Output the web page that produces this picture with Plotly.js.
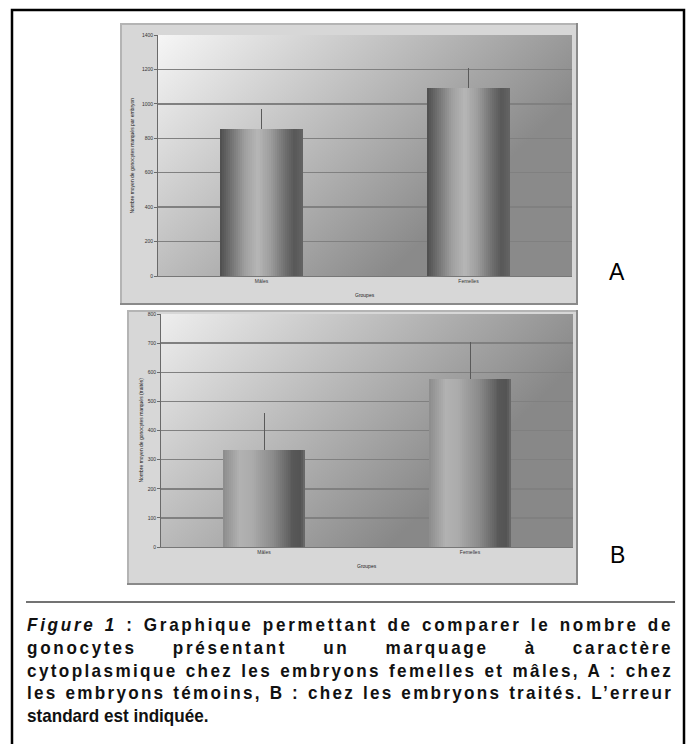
<!DOCTYPE html>
<html>
<head>
<meta charset="utf-8">
<script src="https://cdn.plot.ly/plotly-3.0.1.min.js"></script>
<style>
  html, body { margin:0; padding:0; background:#fff; }
  #wrap { position:relative; width:696px; height:744px; overflow:hidden; }
  #plot { position:absolute; left:0; top:0; width:696px; height:744px; }
  #caption { position:absolute; left:27px; top:614px; width:718px;
    transform:scaleX(0.9); transform-origin:0 0; z-index:5;
    font-family:"Liberation Sans", Arial, Helvetica, sans-serif; font-weight:bold;
    font-size:19px; line-height:22.8px; color:#111; }
  #caption .ln { display:block; width:718px; white-space:nowrap; }
  #caption .j { text-align:justify; text-align-last:justify; }
</style>
</head>
<body>
<div id="wrap">
  <div id="plot"></div>
  <div id="caption">
    <div class="ln j"><i>Figure 1</i> : Graphique permettant de comparer le nombre de</div>
    <div class="ln j">gonocytes présentant un marquage à caractère</div>
    <div class="ln j">cytoplasmique chez les embryons femelles et mâles, A : chez</div>
    <div class="ln j">les embryons témoins, B : chez les embryons traités. L’erreur</div>
    <div class="ln">standard est indiquée.</div>
  </div>
</div>
<script>
// ---------- data ----------
const categories = ['Mâles', 'Femelles'];
const valuesA = [852, 1090];
const errorsA = [116, 120];
const valuesB = [332, 577];
const errorsB = [128, 128];
const ticksA = [0, 200, 400, 600, 800, 1000, 1200, 1400];
const ticksB = [0, 100, 200, 300, 400, 500, 600, 700, 800];
const yTitleA = 'Nombre moyen de gonocytes marqués par embryon';
const yTitleB = 'Nombre moyen de gonocytes marqués (traités)';
const xTitle = 'Groupes';

// caption justification: spread with letter spacing, then word spacing
(function () {
  try {
    const target = 718;
    const cv = document.createElement('canvas').getContext('2d');
    cv.font = 'bold 19px "Liberation Sans", Arial, sans-serif';
    document.querySelectorAll('#caption .j').forEach(el => {
      const txt = el.textContent;
      const w = cv.measureText(txt).width;
      const n = txt.length;
      const extra = target - w - 8;
      const ls = Math.max(0, Math.min(extra / n, 3.0));
      el.style.letterSpacing = ls.toFixed(2) + 'px';
    });
  } catch (e) { console.log(e); }
})();

// ---------- helpers ----------
const W = 696, H = 744;
const px = x => x / W;
const py = y => 1 - y / H;

function canvasURL(w, h, draw) {
  const c = document.createElement('canvas');
  c.width = w; c.height = h;
  draw(c.getContext('2d'), w, h);
  return c.toDataURL('image/png');
}
function chartArea(ctx, w, h) {
  ctx.fillStyle = '#d7d7d7'; ctx.fillRect(0, 0, w, h);
  ctx.strokeStyle = '#b4b4b4'; ctx.lineWidth = 2; ctx.strokeRect(1, 1, w - 2, h - 2);
  ctx.fillStyle = '#8a8a8a'; ctx.fillRect(w - 2, 0, 2, h); ctx.fillRect(0, h - 2, w, 2);
}
function plotGrad(c0, c1) {
  return (ctx, w, h) => {
    const g = ctx.createLinearGradient(0, 0, w * 0.55, h);
    g.addColorStop(0, c0); g.addColorStop(1, c1);
    ctx.fillStyle = g; ctx.fillRect(0, 0, w, h);
  };
}

// bar cylinder shading stops: [fraction across bar, grey level]
const shadeA = [[0, 78], [0.1, 105], [0.3, 160], [0.45, 182], [0.6, 160], [0.8, 108], [0.9, 88], [1, 100]];
const shadeB = [[0, 140], [0.2, 178], [0.35, 172], [0.6, 140], [0.85, 88], [0.95, 84], [1, 110]];
function greyAt(stops, t) {
  for (let i = 1; i < stops.length; i++) {
    if (t <= stops[i][0]) {
      const a = stops[i - 1], b = stops[i];
      const f = (t - a[0]) / (b[0] - a[0]);
      return Math.round(a[1] + (b[1] - a[1]) * f);
    }
  }
  return stops[stops.length - 1][1];
}

const BAR_W = 0.4, N = 42;
function barTraces(xa, ya, vals, errs, stops) {
  const out = [];
  const sw = BAR_W / N;
  for (let i = 0; i < N; i++) {
    const g = greyAt(stops, (i + 0.5) / N);
    const last = i === N - 1;
    out.push({
      type: 'bar', x: categories, y: vals, xaxis: xa, yaxis: ya,
      width: last ? sw : sw * 1.6, offset: -BAR_W / 2 + i * sw,
      marker: { color: `rgb(${g},${g},${g})`, line: { width: 0 } },
      hoverinfo: 'skip', showlegend: false
    });
  }
  out.push({
    type: 'bar', x: categories, y: vals, xaxis: xa, yaxis: ya,
    width: BAR_W, offset: -BAR_W / 2,
    marker: { color: 'rgba(0,0,0,0)', line: { width: 0 } },
    error_y: { type: 'data', array: errs, arrayminus: errs.map(() => 0), symmetric: false,
               color: '#5a5a5a', thickness: 1, width: 0 },
    showlegend: false, hoverinfo: 'skip'
  });
  return out;
}

const data = [].concat(
  barTraces('x', 'y', valuesA, errorsA, shadeA),
  barTraces('x2', 'y2', valuesB, errorsB, shadeB)
);

const A = { x0: 120, x1: 578, y0: 23, y1: 305, px0: 158, px1: 572, py0: 35, py1: 276 };
const B = { x0: 127, x1: 578, y0: 310, y1: 585, px0: 161, px1: 573, py0: 314, py1: 547 };

const tickFont = { family: 'Liberation Sans, Arial, sans-serif', size: 5, color: '#333' };
function xAxis(dom) {
  return { domain: dom, type: 'category', range: [-0.5, 1.5], showgrid: false,
    showline: true, linecolor: '#777', linewidth: 1, ticks: '', tickfont: tickFont,
    fixedrange: true, automargin: false };
}
function yAxis(dom, ticks) {
  return { domain: dom, range: [ticks[0], ticks[ticks.length - 1]], tickvals: ticks,
    ticktext: ticks.map(String), showgrid: true, gridcolor: '#808080', gridwidth: 1.5,
    showline: true, linecolor: '#6a6a6a', linewidth: 1, ticks: 'outside', ticklen: 3,
    tickcolor: '#6a6a6a', tickfont: tickFont, zeroline: false, fixedrange: true, automargin: false };
}

function img(src, r) {
  return { source: src, xref: 'paper', yref: 'paper', x: px(r[0]), y: py(r[1]),
    sizex: px(r[2]) - px(r[0]), sizey: py(r[1]) - py(r[3]),
    xanchor: 'left', yanchor: 'top', sizing: 'stretch', layer: 'below' };
}

const images = [
  img(canvasURL(A.x1 - A.x0, A.y1 - A.y0, chartArea), [A.x0, A.y0, A.x1, A.y1]),
  img(canvasURL(A.px1 - A.px0, A.py1 - A.py0, plotGrad('#f6f6f6', '#8a8a8a')), [A.px0, A.py0, A.px1, A.py1]),
  img(canvasURL(B.x1 - B.x0, B.y1 - B.y0, chartArea), [B.x0, B.y0, B.x1, B.y1]),
  img(canvasURL(B.px1 - B.px0, B.py1 - B.py0, plotGrad('#eeeeee', '#888888')), [B.px0, B.py0, B.px1, B.py1])
];

const titleFont = { family: 'Liberation Sans, Arial, sans-serif', size: 5, color: '#222' };
const bigFont = { family: 'Liberation Sans, Arial, sans-serif', size: 23, color: '#000' };
const annotations = [
  { text: yTitleA, xref: 'paper', yref: 'paper', x: px(131), y: py((A.py0 + A.py1) / 2),
    textangle: -90, showarrow: false, font: titleFont, xanchor: 'center', yanchor: 'middle' },
  { text: yTitleB, xref: 'paper', yref: 'paper', x: px(140), y: py((B.py0 + B.py1) / 2),
    textangle: -90, showarrow: false, font: titleFont, xanchor: 'center', yanchor: 'middle' },
  { text: xTitle, xref: 'paper', yref: 'paper', x: px((A.px0 + A.px1) / 2), y: py(295),
    showarrow: false, font: titleFont, xanchor: 'center', yanchor: 'middle' },
  { text: xTitle, xref: 'paper', yref: 'paper', x: px((B.px0 + B.px1) / 2), y: py(566),
    showarrow: false, font: titleFont, xanchor: 'center', yanchor: 'middle' },
  { text: 'A', xref: 'paper', yref: 'paper', x: px(617), y: py(272),
    showarrow: false, font: bigFont, xanchor: 'center', yanchor: 'middle' },
  { text: 'B', xref: 'paper', yref: 'paper', x: px(617), y: py(555),
    showarrow: false, font: bigFont, xanchor: 'center', yanchor: 'middle' }
];

const shapes = [
  { type: 'rect', xref: 'paper', yref: 'paper', x0: px(12), x1: px(684), y0: py(760), y1: py(10),
    line: { color: '#000', width: 2.5 }, fillcolor: 'rgba(0,0,0,0)', layer: 'above' },
  { type: 'line', xref: 'paper', yref: 'paper', x0: px(26), x1: px(675), y0: py(602), y1: py(602),
    line: { color: '#444', width: 1.5 }, layer: 'above' }
];

const layout = {
  width: W, height: H, margin: { l: 0, r: 0, t: 0, b: 0 },
  paper_bgcolor: '#ffffff', plot_bgcolor: 'rgba(0,0,0,0)',
  barmode: 'overlay', bargap: 0, showlegend: false,
  xaxis: xAxis([px(A.px0), px(A.px1)]),
  yaxis: yAxis([py(A.py1), py(A.py0)], ticksA),
  xaxis2: Object.assign(xAxis([px(B.px0), px(B.px1)]), { anchor: 'y2' }),
  yaxis2: Object.assign(yAxis([py(B.py1), py(B.py0)], ticksB), { anchor: 'x2' }),
  images: images, annotations: annotations, shapes: shapes
};
layout.xaxis.anchor = 'y';
layout.yaxis.anchor = 'x';

Plotly.newPlot('plot', data, layout, { staticPlot: true, displayModeBar: false });
</script>
</body>
</html>
